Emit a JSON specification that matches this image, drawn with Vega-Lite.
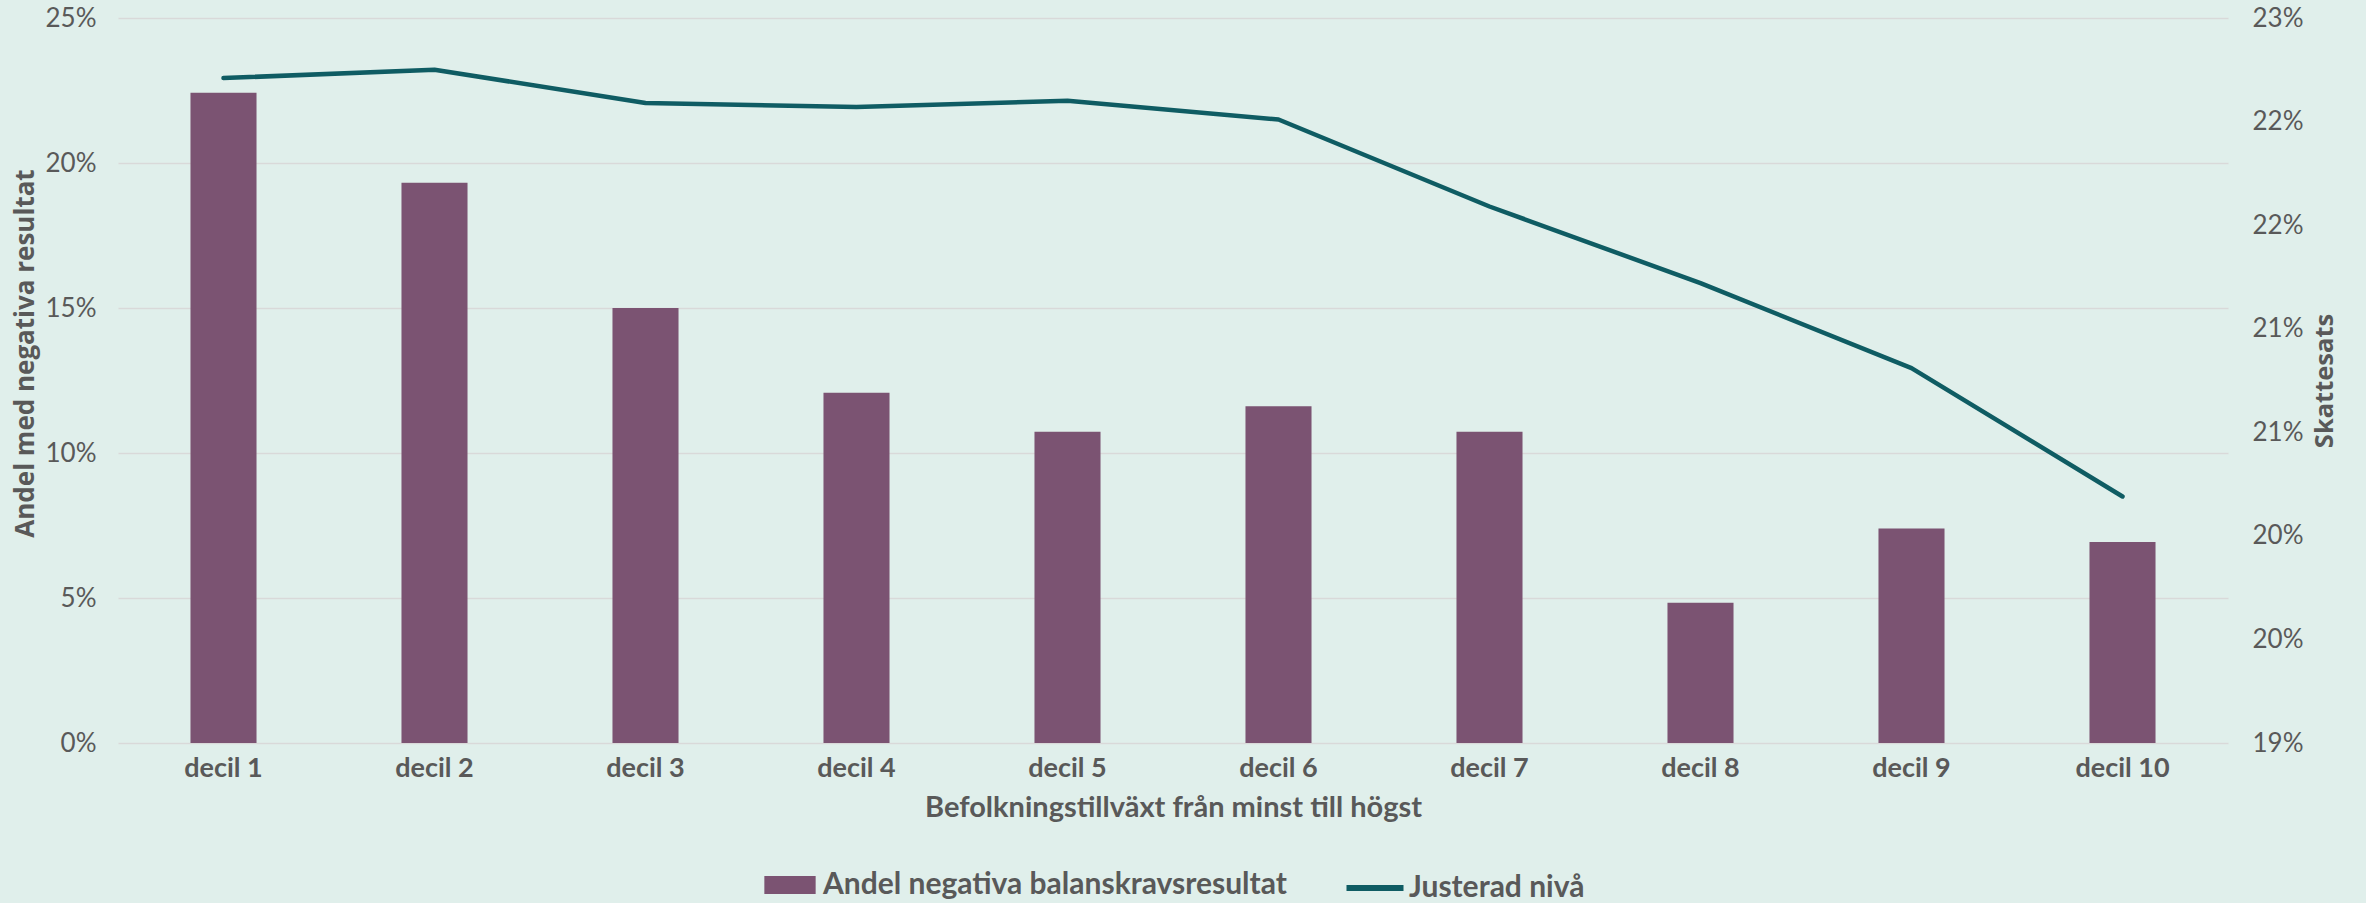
{
  "$schema": "https://vega.github.io/schema/vega-lite/v6.json",
  "width": 2110,
  "height": 725,
  "autosize": {"type": "none"},
  "padding": {"left": 118, "top": 18, "right": 138, "bottom": 160},
  "background": "#E0EFEB",
  "config": {
    "font": "Lato",
    "view": {"stroke": null},
    "axis": {"labelColor": "#595959", "titleColor": "#595959", "domain": false, "ticks": false},
    "legend": {"layout": {"bottom": {"anchor": "middle", "direction": "horizontal", "margin": 56}}}
  },
  "data": {
    "values": [
      {"decil": "decil 1", "andel": 0.2242, "skattesats": 0.2221},
      {"decil": "decil 2", "andel": 0.1932, "skattesats": 0.2225},
      {"decil": "decil 3", "andel": 0.1500, "skattesats": 0.2209},
      {"decil": "decil 4", "andel": 0.1208, "skattesats": 0.2207},
      {"decil": "decil 5", "andel": 0.1073, "skattesats": 0.2210},
      {"decil": "decil 6", "andel": 0.1161, "skattesats": 0.2201},
      {"decil": "decil 7", "andel": 0.1073, "skattesats": 0.2159},
      {"decil": "decil 8", "andel": 0.0484, "skattesats": 0.2122},
      {"decil": "decil 9", "andel": 0.0740, "skattesats": 0.2081},
      {"decil": "decil 10", "andel": 0.0693, "skattesats": 0.2019}
    ]
  },
  "encoding": {
    "x": {
      "field": "decil",
      "type": "nominal",
      "sort": null,
      "scale": {"paddingInner": 0.687, "paddingOuter": 0.3435},
      "axis": {
        "title": "Befolkningstillväxt från minst till högst",
        "labelAngle": 0,
        "labelFontSize": 27,
        "labelFontWeight": "bold",
        "labelPadding": 12,
        "titleFontSize": 29,
        "titleFontWeight": "bold",
        "titlePadding": 12,
        "grid": false
      }
    }
  },
  "layer": [
    {
      "mark": {"type": "bar", "color": "#7B5372"},
      "encoding": {
        "y": {
          "field": "andel",
          "type": "quantitative",
          "scale": {"domain": [0, 0.25], "nice": false},
          "axis": {
            "title": "Andel med negativa resultat",
            "format": ".0%",
            "values": [0, 0.05, 0.1, 0.15, 0.2, 0.25],
            "labelFontSize": 26,
            "labelPadding": 22,
            "titleFont": "Open Sans",
            "titleFontSize": 26,
            "titleFontWeight": "bold",
            "titlePadding": 7,
            "titleY": 335,
            "grid": true,
            "gridColor": "#D9D9D9",
            "gridWidth": 1.5
          }
        },
        "fill": {
          "datum": "Andel negativa balanskravsresultat",
          "type": "nominal",
          "scale": {"range": ["#7B5372"]},
          "legend": {
            "title": null,
            "orient": "bottom",
            "labelFontSize": 30,
            "labelFontWeight": "bold",
            "labelColor": "#595959",
            "labelLimit": 800,
            "labelOffset": 4,
            "symbolType": "M-0.9,-0.32H0.9V0.32H-0.9Z",
            "symbolSize": 3250,
            "symbolStrokeWidth": 0,
            "symbolOpacity": 1,
            "offset": 34
          }
        }
      }
    },
    {
      "mark": {"type": "line", "strokeWidth": 4.5, "strokeCap": "round", "strokeJoin": "round"},
      "encoding": {
        "y": {
          "field": "skattesats",
          "type": "quantitative",
          "scale": {"domain": [0.19, 0.225], "nice": false, "zero": false},
          "axis": {
            "title": "Skattesats",
            "orient": "right",
            "values": [0.19, 0.195, 0.2, 0.205, 0.21, 0.215, 0.22, 0.225],
            "labelExpr": "round(datum.value*100+0.001) + '%'",
            "labelFontSize": 26,
            "labelPadding": 24,
            "titleFont": "Open Sans",
            "titleFontSize": 25.5,
            "titleFontWeight": "bold",
            "titleAngle": 270,
            "titlePadding": 35,
            "grid": false
          }
        },
        "stroke": {
          "datum": "Justerad nivå",
          "type": "nominal",
          "scale": {"range": ["#0F5C63"]},
          "legend": {
            "title": null,
            "orient": "bottom",
            "labelFontSize": 30,
            "labelFontWeight": "bold",
            "labelColor": "#595959",
            "labelLimit": 800,
            "labelOffset": 2,
            "symbolType": "stroke",
            "symbolSize": 3250,
            "symbolStrokeWidth": 6,
            "offset": 34
          }
        }
      }
    }
  ],
  "resolve": {"scale": {"y": "independent"}}
}
